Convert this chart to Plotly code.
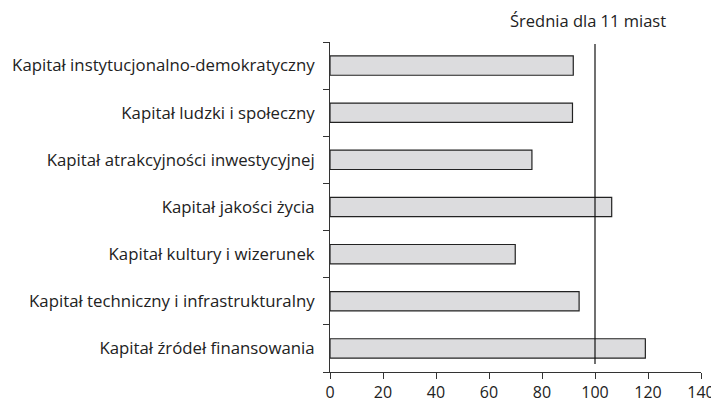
import plotly.graph_objects as go

categories = [
    "Kapitał instytucjonalno-demokratyczny",
    "Kapitał ludzki i społeczny",
    "Kapitał atrakcyjności inwestycyjnej",
    "Kapitał jakości życia",
    "Kapitał kultury i wizerunek",
    "Kapitał techniczny i infrastrukturalny",
    "Kapitał źródeł finansowania",
]
values = [91.8, 91.5, 76.2, 106.3, 69.9, 94.0, 119.0]
average_value = 100
average_label = "Średnia dla 11 miast"
x_ticks = [0, 20, 40, 60, 80, 100, 120, 140]

FONT = "Open Sans"

fig = go.Figure()
fig.add_trace(go.Bar(
    x=values, y=categories, orientation="h",
    width=0.41,
    marker=dict(color="#dcdcde", line=dict(color="#222222", width=1.2)),
    showlegend=False,
))

fig.add_shape(type="line", xref="x", yref="paper",
              x0=average_value, x1=average_value, y0=0.024, y1=0.994,
              line=dict(color="#111111", width=1.2))
fig.add_annotation(x=average_value, xref="x", y=1.0, yref="paper",
                   yanchor="bottom", yshift=8, xshift=-7, text=average_label, showarrow=False,
                   font=dict(family=FONT, size=16.5, color="#222222"))

fig.update_layout(
    width=711, height=394,
    margin=dict(l=322, r=18, t=34, b=30),
    plot_bgcolor="white", paper_bgcolor="white",
    font=dict(family=FONT, size=16.8, color="#222222"),
    bargap=0.59,
)
fig.update_xaxes(range=[0, 140], tickvals=x_ticks, ticks="outside", ticklen=6,
                 tickcolor="#333333", showline=True, linecolor="#333333", linewidth=1,
                 showgrid=False, zeroline=False, tickfont=dict(size=16), automargin=False)
fig.update_yaxes(categoryorder="array", categoryarray=categories[::-1],
                 ticks="outside", tickson="boundaries", ticklen=6, tickcolor="#333333",
                 showline=True, linecolor="#333333", linewidth=1, showgrid=False,
                 tickfont=dict(size=16.8), ticklabelstandoff=11, automargin=False)

fig.write_html("out.html")
